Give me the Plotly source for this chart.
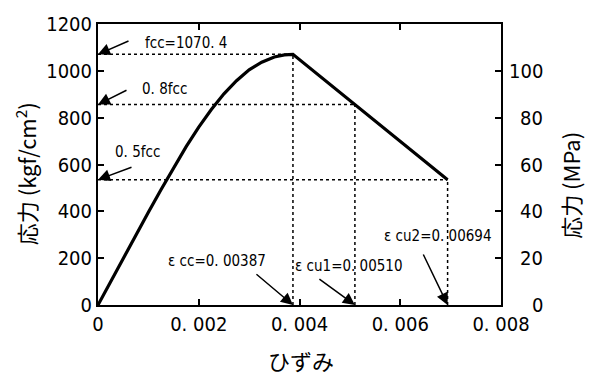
import plotly.graph_objects as go

# ---- data ----
strain = [0, 0.00025, 0.0005, 0.00075, 0.001, 0.00125, 0.0015, 0.00175, 0.002,
          0.00225, 0.0025, 0.00275, 0.003, 0.00325, 0.0035, 0.0037, 0.00387,
          0.0051, 0.00694]
stress = [0, 100, 200, 300, 396, 492, 586, 676, 760,
          835, 902, 958, 1004, 1037, 1059, 1068, 1070.4,
          856.3, 535.2]

fcc = 1070.4
eps_cc = 0.00387
eps_cu1 = 0.00510
eps_cu2 = 0.00694
levels = [fcc, 0.8 * fcc, 0.5 * fcc]
level_strains = [eps_cc, eps_cu1, eps_cu2]

x_tickvals = [0, 0.002, 0.004, 0.006, 0.008]
x_ticktext = ["0", "0. 002", "0. 004", "0. 006", "0. 008"]
y_tickvals = [0, 200, 400, 600, 800, 1000, 1200]
y2_tickvals = [0, 20, 40, 60, 80, 100]
y2_ticktext = ["0", "20", "40", "60", "80", "100"]

NUM_FONT = "DejaVu Sans Condensed, Liberation Sans Narrow, sans-serif"
JP_FONT = "Noto Sans CJK JP"

W, H = 596, 375
L, R, T, B = 98, 95, 15, 70
pw, ph = W - L - R, H - T - B


def px2paper(px, py):
    return (px - L) / pw, (H - B - py) / ph


fig = go.Figure()

# dotted guide lines
for lev, e in zip(levels, level_strains):
    fig.add_trace(go.Scatter(x=[0, e], y=[lev, lev], mode="lines",
                             line=dict(color="black", width=1.5, dash="dot"),
                             showlegend=False, hoverinfo="skip"))
    fig.add_trace(go.Scatter(x=[e, e], y=[0, lev], mode="lines",
                             line=dict(color="black", width=1.5, dash="dot"),
                             showlegend=False, hoverinfo="skip"))

# stress-strain curve
fig.add_trace(go.Scatter(x=strain, y=stress, mode="lines",
                         line=dict(color="black", width=3.2),
                         showlegend=False))

# dummy trace for right axis
fig.add_trace(go.Scatter(x=[0], y=[0], yaxis="y2", mode="markers",
                         marker=dict(opacity=0), showlegend=False, hoverinfo="skip"))

ann_font = dict(family=NUM_FONT, size=15, color="black")
arrow_kw = dict(showarrow=True, arrowhead=2, arrowsize=1.6, arrowwidth=1.5,
                arrowcolor="black", text="", xref="x", yref="y", standoff=0)

# left arrows
fig.add_annotation(x=0, y=levels[0], ax=32, ay=-14, **arrow_kw)
fig.add_annotation(x=0, y=levels[1], ax=30, ay=-15, **arrow_kw)
fig.add_annotation(x=0, y=levels[2], ax=35, ay=-13, **arrow_kw)
# bottom arrows
fig.add_annotation(x=eps_cc, y=0, ax=-38, ay=-32, **arrow_kw)
fig.add_annotation(x=eps_cu1, y=0, ax=-37, ay=-27, **arrow_kw)
fig.add_annotation(x=eps_cu2, y=0, ax=-25, ay=-52, **arrow_kw)

labels = [
    ("fcc=1070. 4", 0.00175, 1117),
    ("0. 8fcc", 0.00132, 923),
    ("0. 5fcc", 0.00078, 654),
    ("ε cc=0. 00387", 0.00236, 186),
    ("ε cu1=0. 00510", 0.00499, 166),
    ("ε cu2=0. 00694", 0.00674, 294),
]
for t, x, y in labels:
    fig.add_annotation(x=x, y=y, text=t, showarrow=False, font=ann_font,
                       xref="x", yref="y")

tick_font = dict(family=NUM_FONT, size=20, color="black")

# right-axis tick labels, right-aligned like the reference
xr, _ = px2paper(545, 0)
for v, t in zip(y2_tickvals, y2_ticktext):
    fig.add_annotation(x=xr, y=v, xref="paper", yref="y2", text=t,
                       showarrow=False, xanchor="right", yanchor="middle",
                       font=tick_font)

# axis titles
title_font = dict(family=JP_FONT, size=22, color="black")
for txt, (px, py), ang in [("応力 (kgf/cm<sup>2</sup>)", (25, 170), -90),
                           ("応力 (MPa)", (570, 182), -90),
                           ("ひずみ", (301, 362), 0)]:
    xp, yp = px2paper(px, py)
    fig.add_annotation(x=xp, y=yp, xref="paper", yref="paper", text=txt,
                       showarrow=False, textangle=ang, font=title_font,
                       xanchor="center", yanchor="middle")

axis_common = dict(showline=True, linecolor="black", linewidth=2,
                   ticks="inside", ticklen=6, tickwidth=1.5, tickcolor="black",
                   showgrid=False, zeroline=False, tickfont=tick_font)

fig.update_layout(
    width=W, height=H,
    margin=dict(l=L, r=R, t=T, b=B),
    paper_bgcolor="white", plot_bgcolor="white",
    xaxis=dict(range=[0, 0.008], tickvals=x_tickvals, ticktext=x_ticktext,
               mirror="ticks", **axis_common),
    yaxis=dict(range=[0, 1200], tickvals=y_tickvals, mirror=False, **axis_common),
    yaxis2=dict(range=[0, 120], tickvals=y2_tickvals, overlaying="y", side="right",
                mirror=False, showticklabels=False, **axis_common),
)

fig.write_html("out.html")
